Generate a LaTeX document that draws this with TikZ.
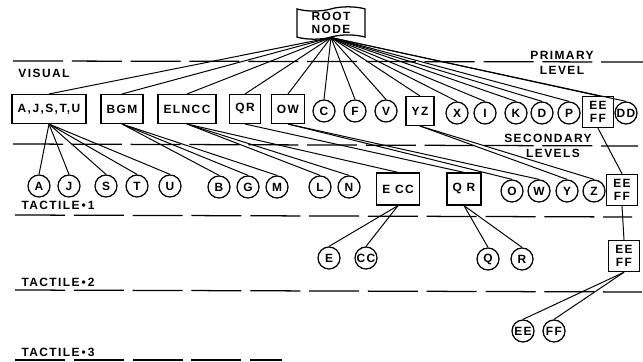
\documentclass[tikz,border=0pt]{standalone}
\usepackage{fontspec}
\setmainfont[LetterSpace=12]{Liberation Sans}
\usetikzlibrary{shapes.symbols}

\begin{document}
\begin{tikzpicture}[x=0.025cm,y=-0.025cm,
    every node/.style={font=\bfseries\fontsize{8.5}{9}\selectfont},
    leaf/.style={draw,circle,inner sep=0pt,minimum size=0.55cm,line width=0.9pt},
    group/.style={draw,rectangle,inner xsep=4pt,inner ysep=0pt,minimum height=0.72cm,line width=0.9pt},
    pair/.style={draw,rectangle,align=center,inner sep=1pt,minimum size=0.78cm,line width=0.9pt},
    levelline/.style={line width=0.9pt,dash pattern=on 1.25cm off 0.22cm}]
    \useasboundingbox (0,0) rectangle (643,361);

    % level lines and their labels
    \draw[levelline] (13,61) -- (643,62);
    \draw[levelline] (13,144) -- (638,146);
    \draw[levelline] (15,215) -- (632,217);
    \draw[levelline] (15,290) -- (642,292);
    \draw[levelline] (15,360) -- (282,360);
    \node (primary) at (562,55) {PRIMARY};
    \node (primlevel) at (562,70) {LEVEL};
    \node (visual) at (44,73) {VISUAL};
    \node (secondary) at (548,138) {SECONDARY};
    \node (seclevels) at (553,153) {LEVELS};
    \node (tact1) at (58,205) {TACTILE\,•\,1};
    \node (tact2) at (58,282) {TACTILE\,•\,2};
    \node (tact3) at (58,352) {TACTILE\,•\,3};

    % root
    \node[draw,tape,align=center,line width=0.9pt,minimum width=1.7cm,minimum height=0.68cm,
          tape bend height=3pt,inner sep=1pt] (root) at (331,23) {ROOT\\NODE};

    % primary level
    \node[group] (ajstu) at (49,109) {A,J,S,T,U};
    \node[group] (bgm) at (122,109) {BGM};
    \node[group] (elncc) at (187,109) {ELNCC};
    \node[group] (qr) at (245,109) {QR};
    \node[group] (ow) at (288,109) {OW};
    \node[leaf] (c) at (324,111) {C};
    \node[leaf] (f) at (355,111) {F};
    \node[leaf] (v) at (386,111) {V};
    \node[group] (yz) at (420,111) {YZ};
    \node[leaf] (x) at (457,113) {X};
    \node[leaf] (i) at (485,113) {I};
    \node[leaf] (k) at (516,113) {K};
    \node[leaf] (d) at (542,113) {D};
    \node[leaf] (p) at (569,113) {P};
    \node[pair] (eeffa) at (598,112) {EE\\FF};
    \node[leaf] (dd) at (626,113) {DD};

    % secondary levels
    \node[leaf] (a) at (39,186) {A};
    \node[leaf] (j) at (69,186) {J};
    \node[leaf] (s) at (106,186) {S};
    \node[leaf] (t) at (137,186) {T};
    \node[leaf] (u) at (170,186) {U};
    \node[leaf] (b) at (219,187) {B};
    \node[leaf] (g) at (248,187) {G};
    \node[leaf] (m) at (277,187) {M};
    \node[leaf] (l) at (320,187) {L};
    \node[leaf] (n) at (349,187) {N};
    \node[group,minimum height=0.8cm] (ecc) at (398,189) {E CC};
    \node[group,minimum height=0.8cm] (qrb) at (464,189) {Q R};
    \node[leaf] (o) at (512,191) {O};
    \node[leaf] (w) at (539,191) {W};
    \node[leaf] (y) at (567,191) {Y};
    \node[leaf] (z) at (594,191) {Z};
    \node[pair] (eeffb) at (622,190) {EE\\FF};

    % tactile levels
    \node[leaf] (e) at (329,258) {E};
    \node[leaf] (cc) at (366,258) {CC};
    \node[leaf] (q) at (488,259) {Q};
    \node[leaf] (r) at (522,259) {R};
    \node[pair] (eeffc) at (624,256) {EE\\FF};
    \node[leaf] (ee) at (523,331) {EE};
    \node[leaf] (ff) at (554,331) {FF};

    % connectors
    \begin{scope}[line width=0.7pt]
    \foreach \n in {ajstu,bgm,elncc,qr,ow,c,f,v,yz,x,i,k,d,p,eeffa,dd}
        \draw (root.south) -- (\n.north);
    \foreach \n in {a,j,s,t,u}
        \draw (ajstu.south) -- (\n.north);
    \foreach \n in {b,g,m}
        \draw (bgm.south) -- (\n.north);
    \foreach \n in {l,n,ecc}
        \draw (elncc.south) -- (\n.north);
    \draw (qr.south) -- (qrb.north);
    \foreach \n in {o,w}
        \draw (ow.south) -- (\n.north);
    \foreach \n in {y,z}
        \draw (yz.south) -- (\n.north);
    \draw (eeffa.south) -- (eeffb.north);
    \foreach \n in {e,cc}
        \draw (ecc.south) -- (\n.north);
    \foreach \n in {q,r}
        \draw (qrb.south) -- (\n.north);
    \draw (eeffb.south) -- (eeffc.north);
    \foreach \n in {ee,ff}
        \draw (eeffc.south) -- (\n.north);
    \end{scope}
\end{tikzpicture}
\end{document}
